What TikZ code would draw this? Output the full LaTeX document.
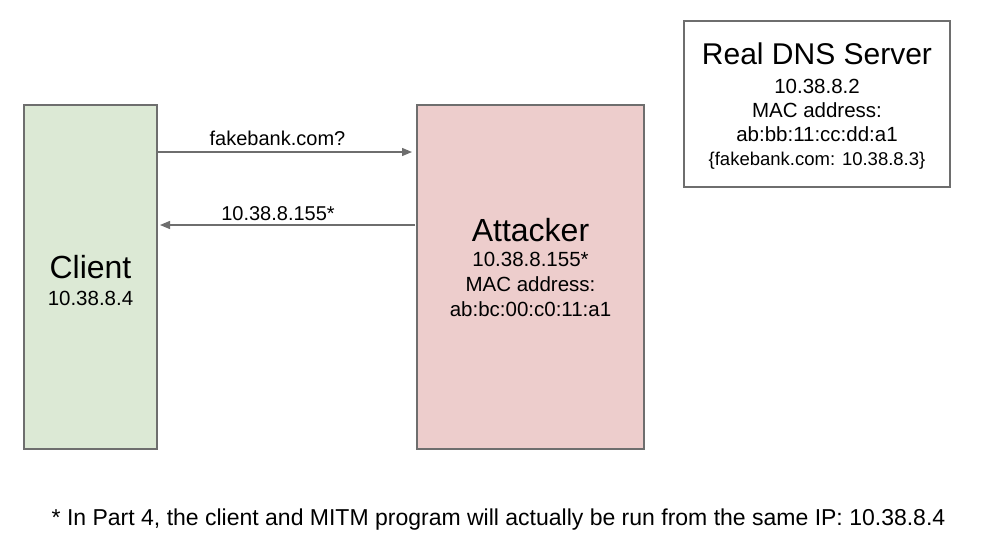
\documentclass[tikz,border=0pt]{standalone}
\usepackage{fontspec}
\setmainfont{Liberation Sans}
\usetikzlibrary{arrows.meta}
\definecolor{clientfill}{HTML}{DCE9D5}
\definecolor{attfill}{HTML}{EDCDCC}
\definecolor{edgegray}{HTML}{6E6E6E}
\begin{document}
\begin{tikzpicture}[x=1pt,y=-1pt,
  boxstyle/.style={draw=edgegray,line width=1.3pt,inner sep=0pt},
  msg/.style={draw=edgegray,line width=1.3pt,-{Triangle[length=10pt,width=8pt]}},
  big/.style={font=\fontsize{32}{34}\selectfont},
  dnsbig/.style={font=\fontsize{30}{32}\selectfont},
  small/.style={font=\fontsize{20.5}{24}\selectfont},
  lab/.style={font=\fontsize{20}{24}\selectfont}]
\useasboundingbox (0,0) rectangle (990,558);
\fill[white] (0,0) rectangle (990,558);
% boxes
\draw[boxstyle,fill=clientfill] (24,105) rectangle (157,449);
\draw[boxstyle,fill=attfill] (417,105) rectangle (644,449);
\draw[boxstyle,fill=white] (684,21) rectangle (950,187);
% box texts
\node[big,anchor=base] (clientname) at (90.5,278) {Client};
\node[small,anchor=base] (clientip) at (90.5,305) {10.38.8.4};
\node[big,anchor=base] (attname) at (530.5,241) {Attacker};
\node[small,anchor=base] (attinfo) at (530.5,266) {10.38.8.155*};
\node[small,anchor=base] (attmac) at (530.5,291) {MAC address:};
\node[small,anchor=base] (attmac2) at (530.5,316) {ab:bc:00:c0:11:a1};
\node[dnsbig,anchor=base] (dnsname) at (817,64) {Real DNS Server};
\node[small,anchor=base] (dnsip) at (817,93) {10.38.8.2};
\node[small,anchor=base] (dnsmac) at (817,117) {MAC address:};
\node[small,anchor=base] (dnsmac2) at (817,141) {ab:bb:11:cc:dd:a1};
\node[font=\fontsize{18.5}{22}\selectfont,anchor=base] (dnsrec) at (817,165) {\{fakebank.com: 10.38.8.3\}};
% arrows
\coordinate (c1) at (157,152);
\coordinate (a1) at (412,152);
\coordinate (a2) at (415,225);
\coordinate (c2) at (160,225);
\draw[msg] (c1) -- (a1);
\draw[msg] (a2) -- (c2);
\node[lab,anchor=base] (lab1) at (277.5,145) {fakebank.com?};
\node[lab,anchor=base] (lab2) at (278,220) {10.38.8.155*};
% footnote
\node[anchor=base,font=\fontsize{23}{26}\selectfont] (foot) at (498.5,525) {* In Part 4, the client and MITM program will actually be run from the same IP: 10.38.8.4};
\end{tikzpicture}
\end{document}
